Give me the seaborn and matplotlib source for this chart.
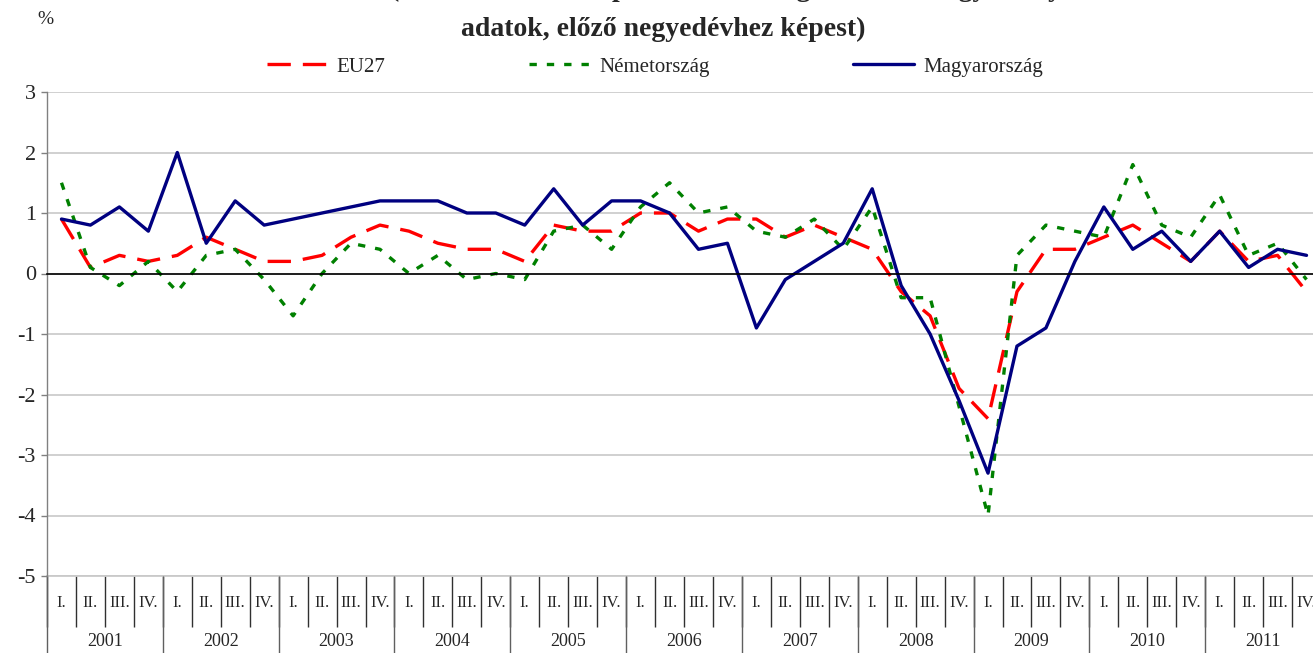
import numpy as np
import pandas as pd
import matplotlib
matplotlib.use('Agg')
import matplotlib.pyplot as plt
import seaborn as sns

# ---- data ----
years = [str(y) for y in range(2001, 2012)]
quarters = ['I.', 'II.', 'III.', 'IV.']
series_names = ['EU27', 'Németország', 'Magyarország']

eu27 = [0.9, 0.1, 0.3, 0.2, 0.3, 0.6, 0.4, 0.2, 0.2, 0.3, 0.6, 0.8,
        0.7, 0.5, 0.4, 0.4, 0.2, 0.8, 0.7, 0.7, 1.0, 1.0, 0.7, 0.9,
        0.9, 0.6, 0.8, 0.6, 0.4, -0.3, -0.7, -1.9, -2.4, -0.3, 0.4, 0.4,
        0.6, 0.8, 0.5, 0.2, 0.7, 0.2, 0.3, -0.3]
nemet = [1.5, 0.1, -0.2, 0.2, -0.3, 0.3, 0.4, -0.1, -0.7, 0.0, 0.5, 0.4,
         0.0, 0.3, -0.1, 0.0, -0.1, 0.7, 0.8, 0.4, 1.1, 1.5, 1.0, 1.1,
         0.7, 0.6, 0.9, 0.4, 1.1, -0.4, -0.4, -2.2, -4.0, 0.3, 0.8, 0.7,
         0.6, 1.8, 0.8, 0.6, 1.3, 0.3, 0.5, -0.1]
magyar = [0.9, 0.8, 1.1, 0.7, 2.0, 0.5, 1.2, 0.8, 0.9, 1.0, 1.1, 1.2,
          1.2, 1.2, 1.0, 1.0, 0.8, 1.4, 0.8, 1.2, 1.2, 1.0, 0.4, 0.5,
          -0.9, -0.1, 0.2, 0.5, 1.4, -0.2, -1.0, -2.1, -3.3, -1.2, -0.9, 0.2,
          1.1, 0.4, 0.7, 0.2, 0.7, 0.1, 0.4, 0.3]

colors = {'EU27': '#FF0000', 'Németország': '#008000', 'Magyarország': '#000080'}
dash_styles = {'EU27': (7, 3.6), 'Németország': (2.2, 3.0), 'Magyarország': ''}

sns.set_theme(style='white')
plt.rcParams['font.family'] = ['Liberation Serif', 'DejaVu Serif']
plt.rcParams['axes.unicode_minus'] = False

n = len(years) * len(quarters)
df = pd.DataFrame({
    'idx': np.tile(np.arange(n), 3),
    'value': eu27 + nemet + magyar,
    'series': np.repeat(series_names, n),
})

W, H = 1313, 653
fig = plt.figure(figsize=(W / 100, H / 100), dpi=100)
ax = fig.add_axes([47 / W, 77 / H, 1274 / W, 484 / H])

sns.lineplot(data=df, x='idx', y='value', hue='series', style='series',
             hue_order=series_names, style_order=series_names,
             palette=colors, dashes=dash_styles, linewidth=2.4, ax=ax,
             legend=True)

ax.set_xlim(-0.5, n - 0.5)
ax.set_ylim(-5, 3)
ax.set_yticks(range(-5, 4))
ax.yaxis.grid(True, color='#C8C8C8', linewidth=1.2)
ax.xaxis.grid(False)
ax.set_axisbelow(True)
ax.set_xlabel('')
ax.set_ylabel('')

for s in ['top', 'right']:
    ax.spines[s].set_visible(False)
ax.spines['left'].set_color('#808080')
ax.spines['left'].set_linewidth(1.0)
ax.spines['bottom'].set_position(('data', 0))
ax.spines['bottom'].set_color('black')
ax.spines['bottom'].set_linewidth(1.2)

boundaries = np.arange(n + 1) - 0.5
ax.set_xticks(boundaries)
ax.set_xticklabels([])
ax.tick_params(axis='x', direction='out', length=4, width=1, color='black')
ax.tick_params(axis='y', direction='out', length=4, width=1, color='#808080',
               labelsize=16, pad=4, left=True)

# category table below
centers = np.arange(n)
q_labels = [quarters[i % 4] for i in range(n)]
sec = ax.secondary_xaxis(0)
sec.spines['bottom'].set_color('#C8C8C8')
sec.set_xticks(boundaries)
sec.set_xticklabels([])
sec.set_xticks(centers, labels=q_labels, minor=True)
sec.tick_params(which='major', length=37, width=1, color='#303030', direction='out')
sec.tick_params(which='minor', length=0, pad=14, labelsize=12)

year_bounds = np.arange(0, n + 1, 4) - 0.5
year_centers = np.arange(len(years)) * 4 + 1.5
sec2 = ax.secondary_xaxis(0)
sec2.spines['bottom'].set_visible(False)
sec2.set_xticks(year_bounds)
sec2.set_xticklabels([])
sec2.set_xticks(year_centers, labels=years, minor=True)
sec2.tick_params(which='major', length=62, width=1, color='#606060', direction='out')
sec2.tick_params(which='minor', length=0, pad=41, labelsize=13)

# legend
h, l = ax.get_legend_handles_labels()
ax.get_legend().remove()
leg = fig.legend(h, l, loc='center left', bbox_to_anchor=(267 / W, 1 - 67 / H),
                 ncol=3, frameon=False, fontsize=15, handlelength=2.9,
                 columnspacing=6.9, handletextpad=0.45, borderpad=0,
                 borderaxespad=0)
for line in leg.get_lines():
    line.set_linewidth(2.4)

# titles (first line is cut off at the top edge, as in the original)
fig.text(390 / W, 1 + 4 / H,
         '(szezonálisan és naptárhatással kiigazított és kiegyensúlyozott',
         ha='left', va='baseline', fontsize=20, fontweight='bold')
fig.text(663 / W, 1 - 36 / H, 'adatok, előző negyedévhez képest)',
         ha='center', va='baseline', fontsize=20, fontweight='bold')
fig.text(45 / W, 1 - 20 / H, '%', ha='center', va='center', fontsize=14)

fig.savefig('out.png', dpi=100)
